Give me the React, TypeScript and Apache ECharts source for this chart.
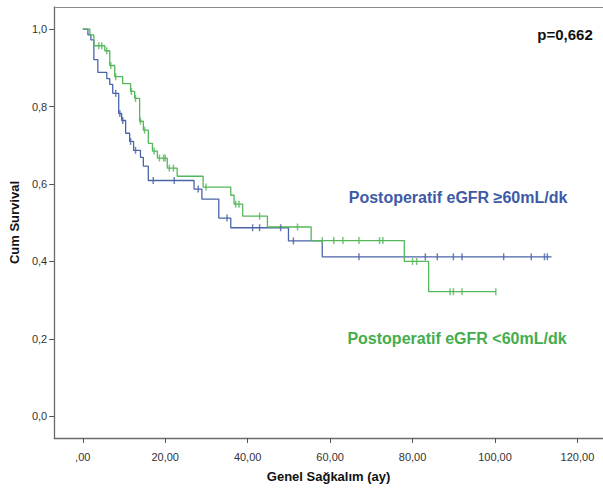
import React, { useEffect, useRef } from "react";
import * as echarts from "echarts";

// Tick labels
const xTicks = [0, 20, 40, 60, 80, 100, 120];
const yTicks = [0, 0.2, 0.4, 0.6, 0.8, 1.0];

// Group: Postoperatif eGFR ≥60mL/dk (blue) — event times and survival after each drop
const hiTimes = [0, 1.25, 1.97, 2.7, 3.66, 5.83, 6.55, 7.27, 8.72, 9.44, 10.4, 11.37, 12.33, 14.0, 14.7, 15.9, 27.0, 28.9, 33.0, 35.9, 49.9, 58.1];
const hiSurv = [1.0, 0.985, 0.972, 0.921, 0.888, 0.872, 0.857, 0.834, 0.782, 0.764, 0.731, 0.71, 0.687, 0.669, 0.646, 0.609, 0.587, 0.561, 0.512, 0.487, 0.453, 0.412];
const hiEnd = 113.7;
const hiCensor = [8.0, 9.0, 9.7, 11.6, 12.8, 17.1, 22.2, 28.0, 35.0, 41.2, 42.9, 48.0, 51.1, 67.0, 83.1, 86.0, 89.9, 92.0, 102.1, 108.8, 112.0, 112.7];

// Group: Postoperatif eGFR <60mL/dk (green)
const loTimes = [0, 1.73, 2.7, 5.35, 6.55, 7.75, 9.68, 11.6, 12.6, 13.8, 14.7, 15.9, 16.9, 18.1, 20.5, 22.9, 29.2, 35.9, 36.7, 38.8, 44.8, 55.4, 78.0, 83.9];
const loSurv = [1.0, 0.985, 0.957, 0.944, 0.906, 0.877, 0.859, 0.839, 0.821, 0.762, 0.739, 0.705, 0.685, 0.667, 0.641, 0.62, 0.592, 0.571, 0.548, 0.517, 0.489, 0.454, 0.4, 0.322];
const loEnd = 100.2;
const loCensor = [3.9, 4.6, 5.8, 6.8, 8.0, 11.8, 12.8, 14.0, 15.0, 17.3, 18.6, 19.6, 20.0, 21.0, 22.0, 29.9, 37.1, 37.9, 42.9, 52.1, 58.1, 60.9, 63.1, 67.0, 72.0, 72.8, 80.0, 81.0, 89.1, 89.9, 92.0, 100.2];

const pText = "p=0,662";
const hiLabel = "Postoperatif eGFR ≥60mL/dk";
const loLabel = "Postoperatif eGFR <60mL/dk";

const BLUE = "#4a64a8";
const GREEN = "#55b65a";
const FONT = "'Liberation Sans', Arial, sans-serif";

const X_MIN = -6.93;
const X_MAX = 126.2;

function survAt(times: number[], surv: number[], t: number) {
  let v = surv[0];
  for (let i = 0; i < times.length; i++) if (times[i] <= t) v = surv[i];
  return v;
}

function stepData(times: number[], surv: number[], end: number) {
  const d = times.map((t, i) => [t, surv[i]]);
  d.push([end, surv[surv.length - 1]]);
  return d;
}

export default function App() {
  const ref = useRef<HTMLDivElement>(null);
  useEffect(() => {
    if (!ref.current) return;
    const chart = echarts.init(ref.current, undefined, { renderer: "svg" });
    chart.setOption({
      animation: false,
      backgroundColor: "#ffffff",
      grid: {
        left: 52,
        right: -2,
        top: 7,
        bottom: 48,
        show: false,
      },
      xAxis: [
        {
          type: "value",
          min: X_MIN,
          max: X_MAX,
          name: "Genel Sağkalım (ay)",
          nameLocation: "middle",
          nameGap: 32,
          nameTextStyle: { fontFamily: FONT, fontSize: 13, fontWeight: "bold", color: "#111" },
          axisLine: { show: true, onZero: false, lineStyle: { color: "#6a6a6a", width: 1.3 } },
          axisTick: { show: true, customValues: xTicks, length: 5, lineStyle: { color: "#555" } },
          axisLabel: {
            customValues: xTicks,
            margin: 13,
            fontFamily: FONT,
            fontSize: 11,
            color: "#333",
            formatter: (v: number) => (v === 0 ? ",00" : v.toFixed(2).replace(".", ",")),
          },
          splitLine: { show: false },
        },
        {
          type: "value",
          position: "top",
          min: X_MIN,
          max: X_MAX,
          axisLine: { show: true, onZero: false, lineStyle: { color: "#8a8a8a", width: 1 } },
          axisTick: { show: false },
          axisLabel: { show: false },
          splitLine: { show: false },
        },
      ],
      yAxis: {
        type: "value",
        min: -0.0558,
        max: 1.057,
        name: "Cum Survival",
        nameLocation: "middle",
        nameGap: 28,
        nameTextStyle: { fontFamily: FONT, fontSize: 13, fontWeight: "bold", color: "#111" },
        axisLine: { show: true, onZero: false, lineStyle: { color: "#6a6a6a", width: 1.3 } },
        axisTick: { show: true, customValues: yTicks, length: 5, lineStyle: { color: "#555" } },
        axisLabel: {
          customValues: yTicks,
          margin: 7,
          fontFamily: FONT,
          fontSize: 11,
          color: "#333",
          formatter: (v: number) => v.toFixed(1).replace(".", ","),
        },
        splitLine: { show: false },
      },
      series: [
        {
          type: "line",
          step: "end",
          symbol: "none",
          data: stepData(hiTimes, hiSurv, hiEnd),
          lineStyle: { color: BLUE, width: 1.3 },
          z: 2,
        },
        {
          type: "scatter",
          symbol: "rect",
          symbolSize: [1.5, 7],
          data: hiCensor.map((t) => [t, survAt(hiTimes, hiSurv, t)]),
          itemStyle: { color: BLUE },
          z: 3,
        },
        {
          type: "line",
          step: "end",
          symbol: "none",
          data: stepData(loTimes, loSurv, loEnd),
          lineStyle: { color: GREEN, width: 1.3 },
          z: 2,
        },
        {
          type: "scatter",
          symbol: "rect",
          symbolSize: [1.5, 7],
          data: loCensor.map((t) => [t, survAt(loTimes, loSurv, t)]),
          itemStyle: { color: GREEN },
          z: 3,
        },
      ],
      graphic: [
        {
          type: "text",
          x: 565,
          y: 34,
          style: {
            text: pText,
            fontFamily: FONT,
            fontSize: 15,
            fontWeight: "bold",
            fill: "#111",
            textAlign: "center",
            textVerticalAlign: "middle",
          },
        },
        {
          type: "text",
          x: 458,
          y: 197,
          style: {
            text: hiLabel,
            fontFamily: FONT,
            fontSize: 16,
            fontWeight: "bold",
            fill: "#3d5aa6",
            textAlign: "center",
            textVerticalAlign: "middle",
          },
        },
        {
          type: "text",
          x: 457,
          y: 338,
          style: {
            text: loLabel,
            fontFamily: FONT,
            fontSize: 16,
            fontWeight: "bold",
            fill: "#45ad4c",
            textAlign: "center",
            textVerticalAlign: "middle",
          },
        },
      ],
    });
    return () => chart.dispose();
  }, []);
  return (
    <div
      ref={ref}
      style={{ position: "fixed", left: 0, top: 0, width: 603, height: 488, background: "#fff" }}
    />
  );
}
